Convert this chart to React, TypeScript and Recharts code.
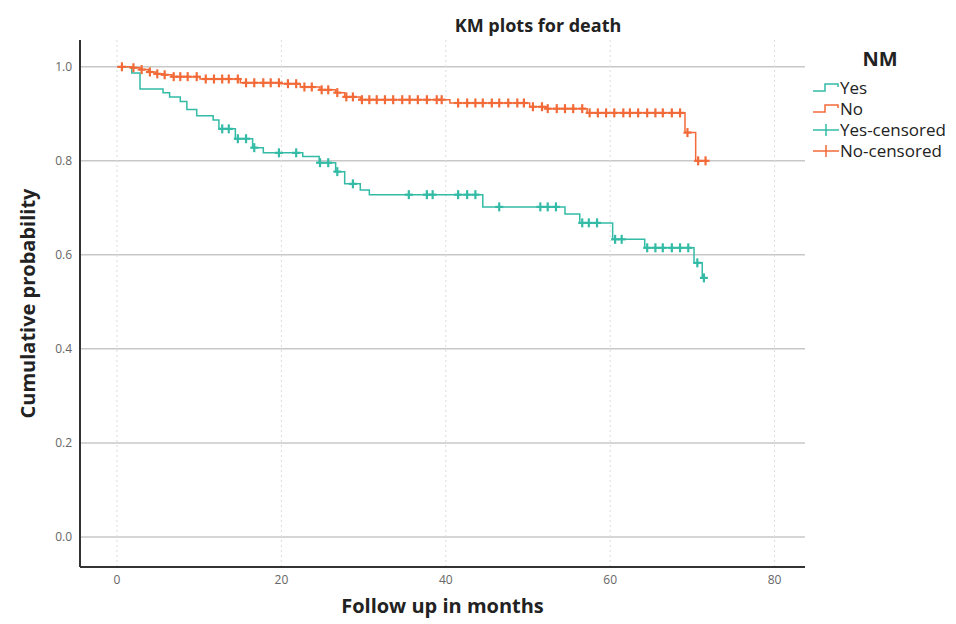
import React from 'react';
import { ComposedChart, Line, Scatter, XAxis, YAxis, ReferenceLine, Label } from 'recharts';

// Kaplan-Meier steps: time of each drop (months) and survival after it
const yesTimes = [0, 1.8, 2.8, 5.6, 6.4, 7.7, 8.5, 9.7, 11.7, 12.4, 14.4, 16.5, 17.8, 22.6, 24.6, 26.6, 27.7, 29.6, 30.7, 44.5, 54.5, 56.3, 60.3, 64.2, 70.2, 71.2];
const yesSurv = [1.0, 0.987, 0.953, 0.945, 0.936, 0.926, 0.909, 0.896, 0.887, 0.868, 0.847, 0.828, 0.817, 0.809, 0.796, 0.777, 0.751, 0.738, 0.728, 0.702, 0.687, 0.668, 0.633, 0.615, 0.583, 0.551];
const yesEnd = 71.4;
const yesCensored = [12.8, 13.6, 14.7, 15.7, 16.7, 19.7, 21.8, 24.7, 25.7, 26.8, 28.7, 35.5, 37.7, 38.4, 41.5, 42.6, 43.6, 46.5, 51.5, 52.4, 53.4, 56.6, 57.4, 58.4, 60.6, 61.4, 64.5, 65.5, 66.4, 67.5, 68.5, 69.5, 70.6, 71.4];

const noTimes = [0, 1.8, 2.8, 3.8, 4.7, 5.6, 6.7, 10.1, 15.0, 19.8, 22.3, 24.7, 26.6, 27.7, 29.6, 40.5, 50.2, 52.3, 57.2, 69.1, 70.4];
const noSurv = [1.0, 0.998, 0.994, 0.989, 0.985, 0.983, 0.979, 0.974, 0.966, 0.964, 0.957, 0.951, 0.945, 0.936, 0.930, 0.923, 0.915, 0.911, 0.902, 0.860, 0.800];
const noEnd = 71.6;
const noCensored = [0.6, 2.0, 3.0, 4.0, 4.9, 5.8, 6.9, 7.7, 8.6, 9.7, 10.8, 11.8, 12.8, 13.6, 14.7, 15.7, 16.7, 17.8, 18.7, 19.7, 20.8, 21.8, 22.8, 23.7, 24.9, 25.7, 26.8, 27.9, 28.7, 29.8, 30.7, 31.6, 32.6, 33.6, 34.7, 35.6, 36.6, 37.7, 38.9, 39.5, 41.5, 42.6, 43.6, 44.5, 45.6, 46.5, 47.6, 48.7, 49.5, 50.6, 51.7, 52.4, 53.5, 54.5, 55.5, 56.6, 57.5, 58.5, 59.5, 60.5, 61.6, 62.4, 63.4, 64.5, 65.5, 66.4, 67.5, 68.5, 69.4, 70.7, 71.6];

const xTicks = [0, 20, 40, 60, 80];
const yTicks = [0, 0.2, 0.4, 0.6, 0.8, 1.0];

const TEAL = '#33bba6';
const ORANGE = '#f26a38';

const stepData = (times: number[], surv: number[], end: number) => [
    ...times.map((t, i) => ({ t, p: surv[i] })),
    { t: end, p: surv[surv.length - 1] },
];

const survAt = (times: number[], surv: number[], t: number) => {
    let p = surv[0];
    times.forEach((s, i) => { if (s <= t) p = surv[i]; });
    return p;
};

const yesLine = stepData(yesTimes, yesSurv, yesEnd);
const noLine = stepData(noTimes, noSurv, noEnd);
const yesMarks = yesCensored.map((t) => ({ t, p: survAt(yesTimes, yesSurv, t) }));
const noMarks = noCensored.map((t) => ({ t, p: survAt(noTimes, noSurv, t) }));

const cross = (color: string) => (props: any) => {
    const { cx, cy } = props;
    return (
        <g stroke={color} strokeWidth={2.2}>
            <line x1={cx - 4} y1={cy} x2={cx + 4} y2={cy} />
            <line x1={cx} y1={cy - 4.5} x2={cx} y2={cy + 4.5} />
        </g>
    );
};

const StepIcon = ({ color }: { color: string }) => (
    <svg width={28} height={14} style={{ display: 'block' }}>
        <path d="M1,10 H13 V3 H26 V6" fill="none" stroke={color} strokeWidth={1.5} />
    </svg>
);

const CrossIcon = ({ color }: { color: string }) => (
    <svg width={28} height={14} style={{ display: 'block' }}>
        <line x1={1} y1={7} x2={27} y2={7} stroke={color} strokeWidth={1.5} />
        <line x1={14} y1={1} x2={14} y2={13} stroke={color} strokeWidth={1.5} />
    </svg>
);

const legendItems = [
    { label: 'Yes', icon: <StepIcon color={TEAL} /> },
    { label: 'No', icon: <StepIcon color={ORANGE} /> },
    { label: 'Yes-censored', icon: <CrossIcon color={TEAL} /> },
    { label: 'No-censored', icon: <CrossIcon color={ORANGE} /> },
];

const font = '"Open Sans", "Noto Sans", sans-serif';
const tickStyle = { fontSize: 12, fill: '#666', fontFamily: '"Liberation Sans Narrow", "Open Sans", sans-serif' };
const titleStyle = { fontSize: 20, fontWeight: 700, fill: '#222', fontFamily: font };

export default function App() {
    return (
        <div style={{ position: 'absolute', left: 0, top: 0, width: 956, height: 624, background: '#fff', fontFamily: font }}>
            <div style={{ position: 'absolute', left: 0, width: 1076, top: 13, textAlign: 'center', fontWeight: 700, fontSize: 18, color: '#222' }}>
                KM plots for death
            </div>
            <ComposedChart width={956} height={624} margin={{ top: 40, left: 50, right: 151, bottom: 27 }}>
                {yTicks.map((v) => (
                    <ReferenceLine key={`h${v}`} y={v} stroke="#c8c8c8" strokeWidth={1.5} />
                ))}
                {xTicks.map((v) => (
                    <ReferenceLine key={`v${v}`} x={v} stroke="#dcdcdc" strokeDasharray="2 3" />
                ))}
                <XAxis
                    dataKey="t"
                    type="number"
                    domain={[-4.5, 83.7]}
                    ticks={xTicks}
                    allowDataOverflow
                    tickLine={false}
                    axisLine={{ stroke: '#333', strokeWidth: 2 }}
                    tick={tickStyle}
                    height={30}
                >
                    <Label value="Follow up in months" position="bottom" offset={2} style={titleStyle} />
                </XAxis>
                <YAxis
                    dataKey="p"
                    type="number"
                    domain={[-0.064, 1.057]}
                    ticks={yTicks}
                    allowDataOverflow
                    tickLine={false}
                    axisLine={{ stroke: '#333', strokeWidth: 2 }}
                    tick={tickStyle}
                    tickFormatter={(v: number) => v.toFixed(1)}
                    width={30}
                >
                    <Label value="Cumulative probability" angle={-90} position="left" offset={22} style={{ ...titleStyle, textAnchor: 'middle' }} />
                </YAxis>
                <Line data={yesLine} dataKey="p" type="stepAfter" stroke={TEAL} strokeWidth={1.5} dot={false} isAnimationActive={false} />
                <Line data={noLine} dataKey="p" type="stepAfter" stroke={ORANGE} strokeWidth={1.5} dot={false} isAnimationActive={false} />
                <Scatter data={yesMarks} shape={cross(TEAL)} isAnimationActive={false} />
                <Scatter data={noMarks} shape={cross(ORANGE)} isAnimationActive={false} />
            </ComposedChart>
            <div style={{ position: 'absolute', left: 812, top: 45 }}>
                <div style={{ fontWeight: 700, fontSize: 20, color: '#222', textAlign: 'center', width: 136, marginBottom: 5 }}>NM</div>
                {legendItems.map((it) => (
                    <div key={it.label} style={{ display: 'flex', alignItems: 'center', height: 21, fontSize: 17, color: '#222' }}>
                        {it.icon}
                        <span>{it.label}</span>
                    </div>
                ))}
            </div>
        </div>
    );
}
